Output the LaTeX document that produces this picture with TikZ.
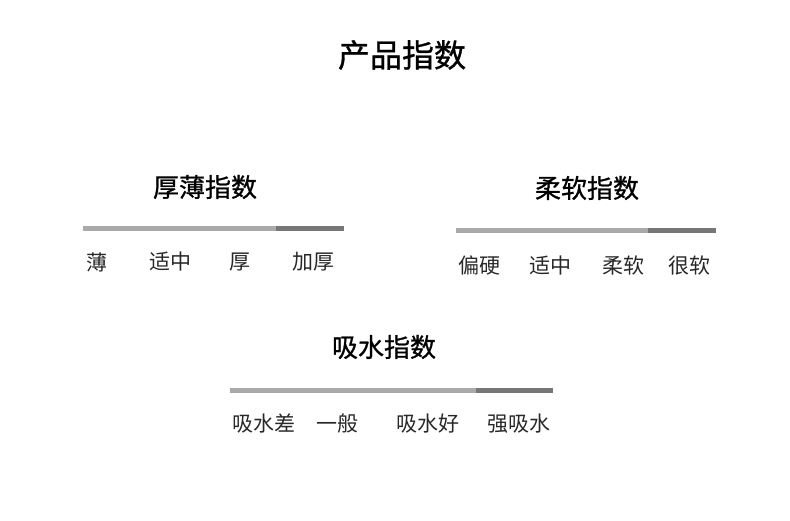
\documentclass[tikz,border=0pt]{standalone}
\usepackage{fontspec}
\newfontfamily\cjk{Noto Sans CJK SC}
\newfontfamily\cjkhead[FakeBold=0.9]{Noto Sans CJK SC}
\usetikzlibrary{positioning}
\definecolor{BarLight}{RGB}{170,170,170}
\definecolor{BarDark}{RGB}{119,119,119}
\definecolor{TextGray}{RGB}{40,40,40}

\begin{document}
\begin{tikzpicture}[x=1pt, y=-1pt,
    head/.style={font=\cjkhead\fontsize{32}{32}\selectfont, text=black},
    sub/.style={font=\cjkhead\fontsize{26}{26}\selectfont, text=black},
    lvl/.style={font=\cjk\fontsize{21}{21}\selectfont, text=TextGray},
    bar/.style={line width=5pt}]
    \useasboundingbox (0,0) rectangle (790,521);
    \node[head] (title) at (402,55) {产品指数};

    % Thickness index
    \node[sub] (thick) at (205,187) {厚薄指数};
    \coordinate (thickL) at (83,228.5);
    \coordinate (thickM) at (276,228.5);
    \coordinate (thickR) at (344,228.5);
    \draw[bar, BarLight] (thickL) -- (thickM);
    \draw[bar, BarDark] (thickM) -- (thickR);
    \node[lvl] (thickA) at (96.5,262) {薄};
    \node[lvl] (thickB) at (170.5,262) {适中};
    \node[lvl] (thickC) at (239.5,262) {厚};
    \node[lvl] (thickD) at (313.5,262) {加厚};

    % Softness index
    \node[sub] (soft) at (587,188) {柔软指数};
    \coordinate (softL) at (456,231);
    \coordinate (softM) at (648,231);
    \coordinate (softR) at (716,231);
    \draw[bar, BarLight] (softL) -- (softM);
    \draw[bar, BarDark] (softM) -- (softR);
    \node[lvl] (softA) at (479.5,266) {偏硬};
    \node[lvl] (softB) at (550.5,266) {适中};
    \node[lvl] (softC) at (623.5,266) {柔软};
    \node[lvl] (softD) at (689.5,266) {很软};

    % Absorbency index
    \node[sub] (absorb) at (384,347) {吸水指数};
    \coordinate (absorbL) at (230,390.5);
    \coordinate (absorbM) at (476,390.5);
    \coordinate (absorbR) at (553,390.5);
    \draw[bar, BarLight] (absorbL) -- (absorbM);
    \draw[bar, BarDark] (absorbM) -- (absorbR);
    \node[lvl] (absorbA) at (263.5,424) {吸水差};
    \node[lvl] (absorbB) at (337.5,424) {一般};
    \node[lvl] (absorbC) at (428,424) {吸水好};
    \node[lvl] (absorbD) at (518.5,424) {强吸水};
\end{tikzpicture}
\end{document}
